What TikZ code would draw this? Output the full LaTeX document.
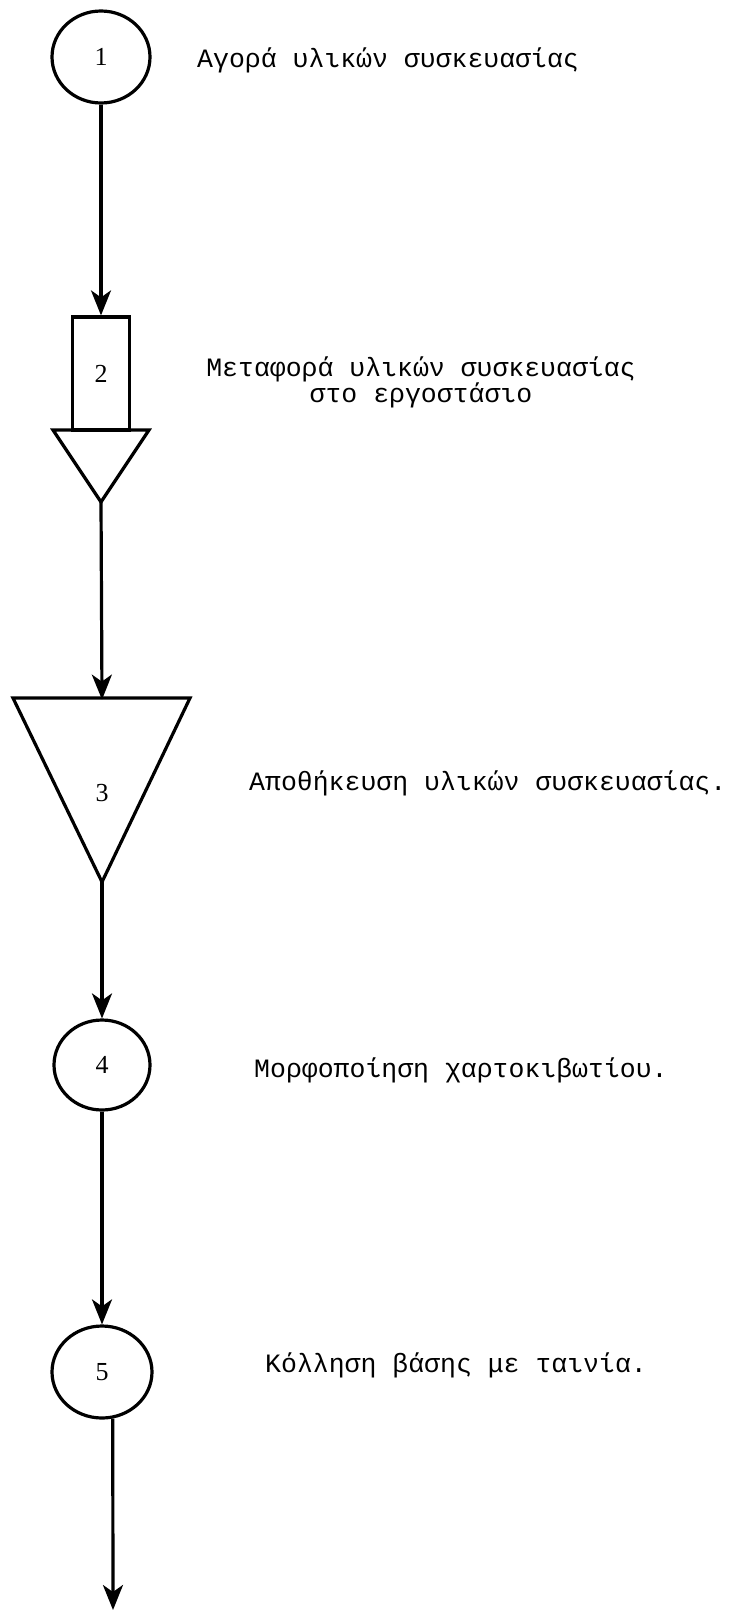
\documentclass[tikz,border=0pt]{standalone}
\usepackage{fontspec}
\setmainfont{Liberation Serif}
\newfontfamily\descfont{Liberation Mono}
\newfontfamily\numfont{Liberation Serif}
\usetikzlibrary{arrows.meta,shapes.geometric}
\begin{document}
\begin{tikzpicture}[x=1pt,y=-1pt,
  opnode/.style={ellipse, draw, line width=3.2pt, inner sep=0pt, font=\numfont\fontsize{26}{26}\selectfont},
  boxnode/.style={rectangle, draw, line width=3.2pt, inner sep=0pt, minimum width=57pt, minimum height=113pt, font=\numfont\fontsize{26}{26}\selectfont},
  numlabel/.style={inner sep=0pt, font=\numfont\fontsize{26}{26}\selectfont},
  shapeline/.style={line width=3.2pt, line join=miter},
  desc/.style={anchor=base west, inner sep=0pt, font=\descfont\fontsize{26.5}{30}\selectfont},
  descc/.style={anchor=base, inner sep=0pt, font=\descfont\fontsize{26.5}{30}\selectfont},
  flow/.style={line width=3.2pt, -{Stealth[length=25pt,width=20pt,inset=7pt]}}
]
\useasboundingbox (0,0) rectangle (731,1611);
\fill[white] (0,0) rectangle (731,1611);

% step 1
\node[opnode, minimum width=98pt, minimum height=92pt] (c1) at (101,57) {1};
\node[desc] (t1) at (197,67) {Αγορά υλικών συσκευασίας};

% step 2: box + triangle
\node[boxnode] (r2) at (101,373.5) {2};
\coordinate (t2l) at (53,430);
\coordinate (t2r) at (149,430);
\coordinate (t2apex) at (101,502);
\draw[shapeline] (t2l) -- (t2r) -- (t2apex) -- cycle;
\node[descc] (t2a) at (421,376) {Μεταφορά υλικών συσκευασίας};
\node[descc] (t2b) at (421,402) {στο εργοστάσιο};

% step 3: storage triangle
\coordinate (t3l) at (13,698);
\coordinate (t3r) at (190,698);
\coordinate (t3top) at (102,698);
\coordinate (t3apex) at (102,882);
\draw[shapeline] (t3l) -- (t3r) -- (t3apex) -- cycle;
\node[numlabel] (n3) at (102,793) {3};
\node[desc] (t3) at (249,790) {Αποθήκευση υλικών συσκευασίας.};

% step 4
\node[opnode, minimum width=96pt, minimum height=90pt] (c4) at (102,1065) {4};
\node[desc] (t4) at (254,1077) {Μορφοποίηση χαρτοκιβωτίου.};

% step 5
\node[opnode, minimum width=100pt, minimum height=92pt] (c5) at (102,1372) {5};
\node[desc] (t5) at (265,1372) {Κόλληση βάσης με ταινία.};

\coordinate (end) at (113,1610);

% connectors
\draw[flow] (c1.south) -- (r2.north);
\draw[flow] (t2apex) -- ([yshift=-1.6pt]t3top);
\draw[flow] (t3apex) -- (c4.north);
\draw[flow] (c4.south) -- (c5.north);
\draw[flow] (c5.-77) -- (end);
\end{tikzpicture}
\end{document}
